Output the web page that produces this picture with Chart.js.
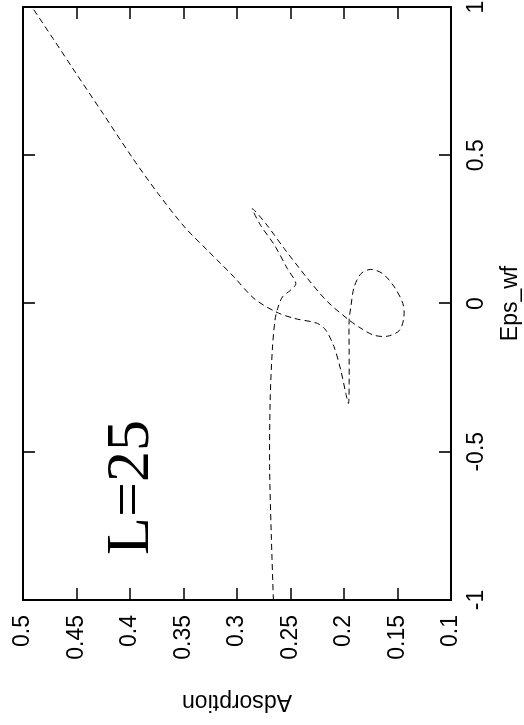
<!DOCTYPE html>
<html>
<head>
  <title>Adsorption vs Eps_wf (L=25)</title>
  <script src="https://cdn.jsdelivr.net/npm/chart.js"></script>
  <style>
    body { margin: 0; background: #fff; overflow: hidden; }
    /* plot is laid out landscape, then turned a quarter turn counter-clockwise */
    .sheet {
      position: absolute;
      left: 0;
      top: 0;
      width: 725px;
      height: 524px;
      transform-origin: 0 0;
      transform: translate(0, 725px) rotate(-90deg);
    }
  </style>
</head>
<body>
  <div class="sheet">
    <canvas id="adsChart" width="725" height="524"></canvas>
  </div>

  <script>
    // one parametric branch, in drawing order
    const epsWf = [
      -1.000, -0.775, -0.551, -0.326, -0.157, -0.056, -0.017, 0.022, 0.045, 0.068,
      0.118, 0.197, 0.264, 0.320, 0.270, 0.186, 0.084, 0.006, -0.056, -0.084,
      -0.107, -0.110, -0.090, -0.045, 0.000, 0.056, 0.101, 0.115, 0.101, 0.056,
      -0.011, -0.056, -0.157, -0.270, -0.337, -0.303, -0.225, -0.146, -0.090, -0.067,
      -0.050, -0.028, 0.017, 0.090, 0.135, 0.180, 0.258, 0.371, 0.494, 0.641,
      0.787, 0.894, 1.000
    ];
    const adsorption = [
      0.266, 0.268, 0.2695, 0.269, 0.267, 0.2645, 0.262, 0.2576, 0.250, 0.245,
      0.253, 0.265, 0.278, 0.2856, 0.2732, 0.256, 0.234, 0.2154, 0.1952, 0.184,
      0.172, 0.159, 0.148, 0.144, 0.145, 0.153, 0.164, 0.175, 0.184, 0.1905,
      0.1936, 0.1952, 0.1952, 0.1952, 0.1958, 0.1983, 0.203, 0.2093, 0.217, 0.2248,
      0.2467, 0.2638, 0.2841, 0.3029, 0.3153, 0.3278, 0.349, 0.3738, 0.3982, 0.4253,
      0.4524, 0.472, 0.4916
    ];

    const xTicks = [-1, -0.5, 0, 0.5, 1];
    const yTicks = [0.1, 0.15, 0.2, 0.25, 0.3, 0.35, 0.4, 0.45, 0.5];
    const sizeLabel = 'L=25';

    const points = epsWf.map((e, i) => ({ x: e, y: adsorption[i] }));

    // fixed axis boxes; drop the label overhang so the plot box keeps its size
    function fixBox(size) {
      return s => {
        if (s.isHorizontal()) s.height = size; else s.width = size;
        s.paddingLeft = s.paddingRight = s.paddingTop = s.paddingBottom = 0;
      };
    }

    // gnuplot style box with inward ticks on every side, plus the size label
    const framePlugin = {
      id: 'frame',
      afterDatasetsDraw(chart) {
        const ctx = chart.ctx;
        const a = chart.chartArea;
        const xs = chart.scales.x;
        const ys = chart.scales.y;
        const tick = 12;
        ctx.save();
        ctx.strokeStyle = '#000';
        ctx.lineWidth = 2;
        ctx.strokeRect(a.left, a.top, a.right - a.left, a.bottom - a.top);
        ctx.lineWidth = 1.6;
        ctx.beginPath();
        xTicks.forEach(v => {
          const px = Math.round(xs.getPixelForValue(v));
          ctx.moveTo(px, a.bottom); ctx.lineTo(px, a.bottom - tick);
          ctx.moveTo(px, a.top); ctx.lineTo(px, a.top + tick);
        });
        yTicks.forEach(v => {
          const py = Math.round(ys.getPixelForValue(v));
          ctx.moveTo(a.left, py); ctx.lineTo(a.left + tick, py);
          ctx.moveTo(a.right, py); ctx.lineTo(a.right - tick, py);
        });
        ctx.stroke();

        ctx.fillStyle = '#000';
        ctx.font = '62px "Liberation Serif", "Times New Roman", serif';
        ctx.textBaseline = 'alphabetic';
        ctx.textAlign = 'left';
        ctx.fillText(sizeLabel, xs.getPixelForValue(-0.848), ys.getPixelForValue(0.383));
        ctx.restore();
      }
    };

    const font = { family: '"Liberation Sans", Arial, Helvetica, sans-serif', size: 23 };

    new Chart(document.getElementById('adsChart').getContext('2d'), {
      type: 'scatter',
      data: {
        datasets: [{
          data: points,
          showLine: true,
          borderColor: '#000',
          borderWidth: 1,
          borderDash: [6, 4],
          pointRadius: 0,
          tension: 0.3,
          fill: false
        }]
      },
      options: {
        responsive: false,
        animation: false,
        events: [],
        layout: { padding: { left: 0, right: 7, top: 23, bottom: 0 } },
        plugins: { legend: { display: false }, tooltip: { enabled: false } },
        scales: {
          x: {
            type: 'linear',
            min: -1,
            max: 1,
            afterBuildTicks: s => { s.ticks = xTicks.map(v => ({ value: v })); },
            afterFit: fixBox(73),
            grid: { display: false, drawTicks: false },
            border: { display: false },
            ticks: { color: '#000', font: font, padding: 12, maxRotation: 0, callback: v => String(v) },
            title: { display: true, text: 'Eps_wf', color: '#000', font: font, padding: 0 }
          },
          y: {
            type: 'linear',
            min: 0.1,
            max: 0.5,
            afterBuildTicks: s => { s.ticks = yTicks.map(v => ({ value: v })); },
            afterFit: fixBox(125),
            grid: { display: false, drawTicks: false },
            border: { display: false },
            ticks: { color: '#000', font: font, padding: 15, callback: v => String(+v.toFixed(2)) },
            title: { display: true, text: 'Adsorption', color: '#000', font: font, padding: 10 }
          }
        }
      },
      plugins: [framePlugin]
    });
  </script>
</body>
</html>
